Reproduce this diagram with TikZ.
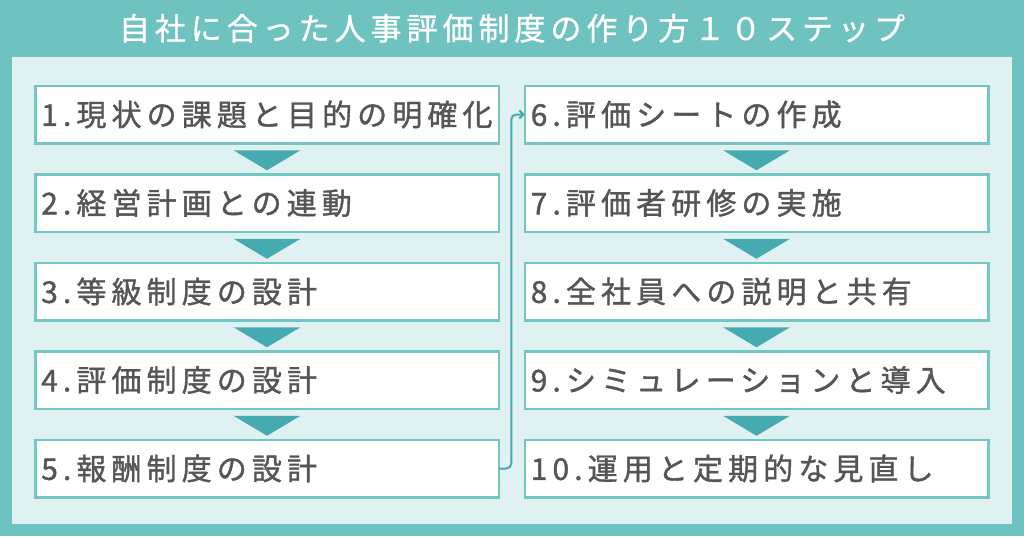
\documentclass[tikz,border=0pt]{standalone}
\usepackage{fontspec}
\usepackage{xcolor}
\usepackage{tikz}
\usetikzlibrary{positioning,calc,arrows.meta}
\setmainfont{Noto Sans CJK JP}
\newfontfamily\stepfont{Noto Sans CJK JP}[LetterSpace=17,FakeBold=1.2]
\newfontfamily\headfont{Noto Sans CJK JP}[LetterSpace=16,FakeBold=1]
\definecolor{tealbg}{RGB}{110,195,192}
\definecolor{panelbg}{RGB}{224,241,241}
\definecolor{boxline}{RGB}{114,199,196}
\definecolor{tealdark}{RGB}{69,171,176}
\definecolor{stepgray}{RGB}{85,85,85}

\begin{document}
\begin{tikzpicture}[x=1pt,y=1pt,
						node distance=31pt,
						step_box/.style={
							rectangle, draw=boxline, fill=white, line width=2.5pt,
							outer sep=0pt, minimum width=463.5pt, minimum height=57.5pt,
							text width=451.5pt, inner xsep=6pt, align=left,
							font=\stepfont\fontsize{30}{32}\selectfont, text=stepgray
						},
						% Triangle entre deux étapes
						next_tri/.style={fill=tealdark},
						% Flèche de la colonne gauche vers la droite
						jump_arrow/.style={
							draw=tealdark, line width=2pt, rounded corners=5pt,
							-{Straight Barb[length=4pt,width=8pt]}
						}
						]
						% Fond et panneau clair
						\fill[tealbg] (0,0) rectangle (1024,-536);
						\fill[panelbg] (12,-57) rectangle (1012,-523.5);
						
						% Titre
						\node[font=\headfont\fontsize{31}{34}\selectfont, text=white, anchor=base] (title) at (512,-40) {自社に合った人事評価制度の作り方１０ステップ};
						
						% Colonne gauche
						\node[step_box] (s1) at (267,-114.5) {1.現状の課題と目的の明確化};
						\node[step_box, below=of s1] (s2) {2.経営計画との連動};
						\node[step_box, below=of s2] (s3) {3.等級制度の設計};
						\node[step_box, below=of s3] (s4) {4.評価制度の設計};
						\node[step_box, below=of s4] (s5) {5.報酬制度の設計};
						
						% Colonne droite
						\node[step_box] (s6) at (756.5,-114.5) {6.評価シートの作成};
						\node[step_box, below=of s6] (s7) {7.評価者研修の実施};
						\node[step_box, below=of s7] (s8) {8.全社員への説明と共有};
						\node[step_box, below=of s8] (s9) {9.シミュレーションと導入};
						\node[step_box, below=of s9] (s10) {10.運用と定期的な見直し};
						
						% Triangles
						\foreach \a/\b in {s1/s2,s2/s3,s3/s4,s4/s5,s6/s7,s7/s8,s8/s9,s9/s10}
						\fill[next_tri] ($(\a.south)!0.5!(\b.north)+(-33.5,8.5)$) -- ++(67,0) -- ($(\a.south)!0.5!(\b.north)+(0,-11.5)$) -- cycle;
						
						% Liaison 5 -> 6
						\draw[jump_arrow] (s5.east) -- ++(12.5,0) |- (s6.west);
						
					\end{tikzpicture}
\end{document}
